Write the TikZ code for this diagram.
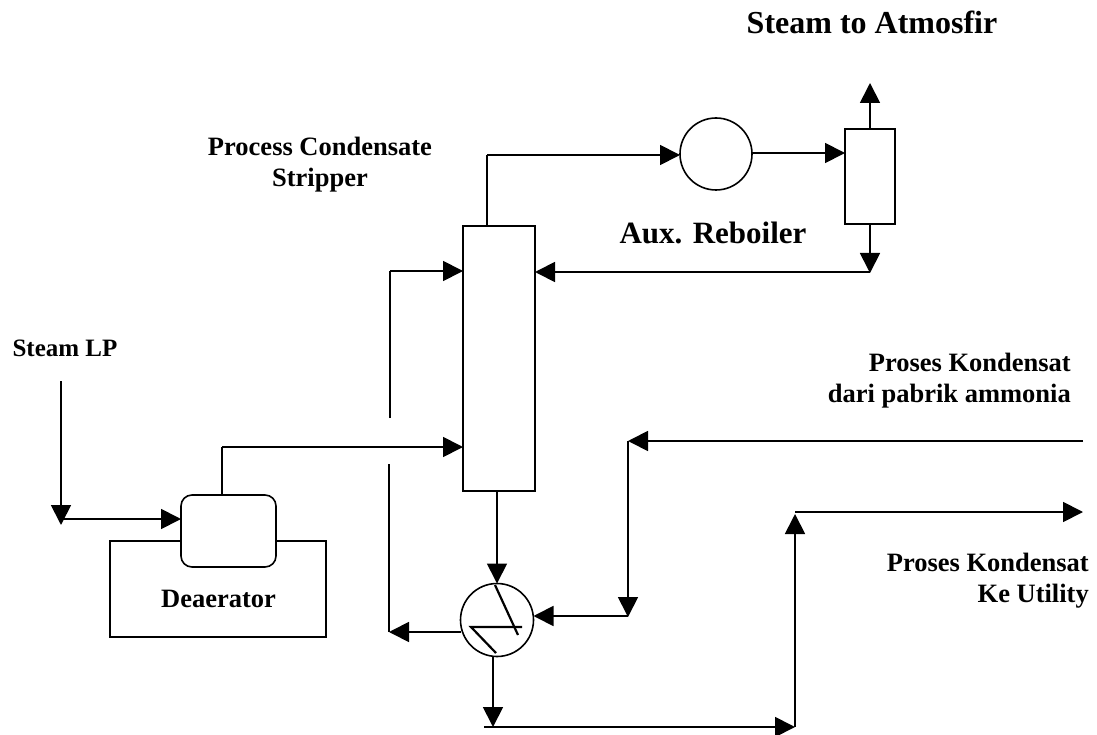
\documentclass[tikz,border=0pt]{standalone}
\usepackage{fontspec}
\setmainfont{Liberation Serif}
\usetikzlibrary{arrows.meta, calc}
\tikzset{
  unit/.style = {draw, line width = 1.6pt, inner sep = 0pt, outer sep = 0pt},
  flow/.style = {-{Triangle[length = 20pt, width = 20pt]}, line width = 1.8pt},
  pipe/.style = {-, line width = 1.8pt},
  lbl/.style = {font = \fontsize{26.5}{31}\selectfont\bfseries, inner sep = 0pt},
  bigbl/.style = {lbl, font = \fontsize{31}{36}\selectfont\bfseries, anchor = base}
}

\begin{document}
\begin{tikzpicture}[x = 1pt, y = -1pt]
\useasboundingbox (0, 0) rectangle (1097, 735);

\node (stripper) [unit, minimum width = 72pt, minimum height = 265pt] at (499, 358.5) {};
\node (separator) [unit, minimum width = 50pt, minimum height = 95pt] at (870, 176.5) {};
\node (reboiler) [unit, circle, minimum width = 72pt] at (716, 154) {};
\node (cooler) [unit, circle, minimum width = 73pt] at (497, 620) {};
\node (basin) [unit, minimum width = 216pt, minimum height = 96pt] at (218, 589) {};
\node (tank) [unit, fill = white, rounded corners = 11pt, minimum width = 95pt, minimum height = 72pt] at (228.5, 531) {};

\node (steamlp) [lbl, anchor = base, font = \fontsize{25}{30}\selectfont\bfseries] at (65, 356) {Steam LP};
\node (deaerator) [lbl, anchor = base] at (218.5, 607) {Deaerator};
\node (stripname) [lbl, align = center] at (320, 165) {Process Condensate\\Stripper};
\node (auxname) [bigbl] at (713, 244) {Aux. Reboiler};
\node (atmos) [bigbl, font = \fontsize{32}{36}\selectfont\bfseries] at (872, 34) {Steam to Atmosfir};
\node (kondin) [lbl, align = right, anchor = east] at (1071, 381) {Proses Kondensat\\dari pabrik ammonia};
\node (kondout) [lbl, align = right, anchor = east] at (1089, 581) {Proses Kondensat\\Ke Utility};

% steam into the deaerator
\coordinate (steamtop) at (61, 381);
\coordinate (steamjoint) at (61, 519);
\draw[flow] (steamtop) to ([yshift = -6pt] steamjoint);
\draw[flow] (steamjoint) to (tank.west |- steamjoint);

\coordinate (deartop) at (222, 447);
\draw[pipe] (tank.north -| deartop) to (deartop);
\draw[flow] (deartop) to (stripper.west |- deartop);

% recycle from the cooler, broken where it passes the feed
\coordinate (loopbottom) at (389, 632);
\coordinate (loopbreak) at (389, 464);
\coordinate (loopresume) at (390, 418);
\coordinate (looptop) at (390, 271);
\draw[flow] (cooler.west |- loopbottom) to (loopbottom);
\draw[pipe] (loopbottom) to (loopbreak);
\draw[pipe] (loopresume) to (looptop);
\draw[flow] (looptop) to (stripper.west |- looptop);

% overhead
\coordinate (overhead) at (487, 155);
\draw[pipe] (stripper.north -| overhead) to (overhead);
\draw[flow] (overhead) to (reboiler.west |- overhead);
\draw[flow] (reboiler.east |- 0, 153) to (separator.west |- 0, 153);
\coordinate (vent) at (870, 83);
\draw[flow] (separator.north) to (vent);
\coordinate (sepjoint) at (870, 272);
\draw[flow] (separator.south) to ([yshift = -1pt] sepjoint);
\draw[flow] (sepjoint) to (stripper.east |- sepjoint);

% bottoms through the cooler
\draw[flow] (stripper.south -| cooler.north) to (cooler.north);
\coordinate (coolbottom) at (493, 727);
\draw[flow] ($(cooler.south) + (-4, 0)$) to (coolbottom);

\coordinate (kondstart) at (1083, 441);
\coordinate (kondturn) at (628, 441);
\coordinate (kondjoint) at (628, 616);
\draw[flow] (kondstart) to (kondturn);
\draw[flow] (kondturn) to ([yshift = -1pt] kondjoint);
\draw[flow] (kondjoint) to (cooler.east |- kondjoint);

\coordinate (outstart) at (484, 727);
\coordinate (outjoint) at (795, 727);
\coordinate (outturn) at (795, 512);
\coordinate (outend) at (1083, 512);
\draw[flow] (outstart) to (outjoint);
\draw[flow] (outjoint) to ([yshift = -2pt] outturn);
\draw[flow] (outturn) to (outend);

% tube inside the cooler
\draw[line width = 2.2pt] (495, 585) to (518, 635);
\draw[line width = 2.2pt] (522, 627) to (471, 627) to (496, 653);

\end{tikzpicture}
\end{document}
